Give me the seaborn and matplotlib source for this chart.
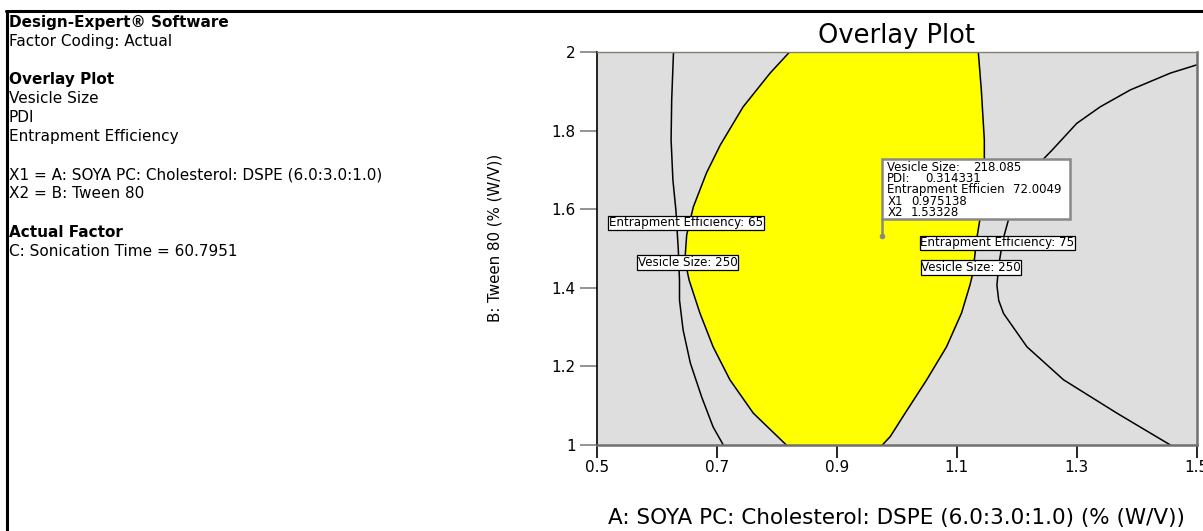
import matplotlib.pyplot as plt
import seaborn as sns
import numpy as np
from matplotlib.patches import Rectangle
from matplotlib.lines import Line2D

sns.set_style("white")
plt.rcParams['font.family'] = ['DejaVu Sans']
plt.rcParams.update({'text.color': 'black', 'axes.labelcolor': 'black',
                     'xtick.color': 'black', 'ytick.color': 'black'})

# contour lines (x = A, y = B)
vs_left_x = [0.628, 0.625, 0.624, 0.627, 0.632, 0.636, 0.638, 0.638, 0.644, 0.656, 0.675, 0.694, 0.711]
vs_left_y = [2.0, 1.879, 1.777, 1.675, 1.598, 1.497, 1.420, 1.369, 1.293, 1.209, 1.122, 1.046, 1.0]

ee65_x = [0.821, 0.789, 0.744, 0.706, 0.683, 0.661, 0.650, 0.647, 0.654, 0.672, 0.694, 0.722, 0.761, 0.816]
ee65_y = [2.0, 1.947, 1.861, 1.764, 1.693, 1.606, 1.535, 1.471, 1.420, 1.336, 1.250, 1.166, 1.081, 1.0]

ee75_x = [1.136, 1.141, 1.146, 1.146, 1.142, 1.133, 1.127, 1.122, 1.108, 1.083, 1.050, 1.014, 0.989, 0.976]
ee75_y = [2.0, 1.904, 1.777, 1.693, 1.606, 1.522, 1.438, 1.407, 1.336, 1.250, 1.166, 1.081, 1.021, 1.0]

vs_right_x = [1.5, 1.456, 1.389, 1.339, 1.300, 1.259, 1.222, 1.192, 1.177, 1.170, 1.167, 1.170, 1.178,
              1.217, 1.278, 1.367, 1.456]
vs_right_y = [1.968, 1.947, 1.904, 1.861, 1.819, 1.751, 1.693, 1.606, 1.522, 1.458, 1.407, 1.368, 1.335,
              1.250, 1.166, 1.081, 1.0]

# flag point
flag_x = 0.975138
flag_y = 1.53328
flag_names = ["Vesicle Size:", "PDI:", "Entrapment Efficien", "X1", "X2"]
flag_values = ["218.085", "0.314331", "72.0049", "0.975138", "1.53328"]

x_ticks = [0.5, 0.7, 0.9, 1.1, 1.3, 1.5]
y_ticks = [1, 1.2, 1.4, 1.6, 1.8, 2]

side_lines = [("Design-Expert® Software", "bold"), ("Factor Coding: Actual", "normal"), ("", "normal"),
              ("Overlay Plot", "bold"), ("Vesicle Size", "normal"), ("PDI", "normal"),
              ("Entrapment Efficiency", "normal"), ("", "normal"),
              ("X1 = A: SOYA PC: Cholesterol: DSPE (6.0:3.0:1.0)", "normal"), ("X2 = B: Tween 80", "normal"),
              ("", "normal"), ("Actual Factor", "bold"), ("C: Sonication Time = 60.7951", "normal")]

fig = plt.figure(figsize=(12.03, 5.31), dpi=100)
ax = fig.add_axes([0.4960, 0.1620, 0.4988, 0.7395])
ax.set_facecolor("#dedede")

# desirable region
ax.fill(ee65_x + ee75_x[::-1], ee65_y + ee75_y[::-1], color="#ffff00", lw=0, zorder=1)

for xs, ys in [(vs_left_x, vs_left_y), (ee65_x, ee65_y), (ee75_x, ee75_y), (vs_right_x, vs_right_y)]:
    sns.lineplot(x=xs, y=ys, sort=False, estimator=None, color="black", lw=1.1, ax=ax, zorder=2)

# contour labels
lab_kw = dict(fontsize=8.6, ha="center", va="center", zorder=4,
              bbox=dict(boxstyle="square,pad=0.05", fc="white", ec="black", lw=0.9))
ax.text(0.6488, 1.5653, "Entrapment Efficiency: 65", **lab_kw)
ax.text(0.6513, 1.4647, "Vesicle Size: 250", **lab_kw)
ax.text(1.168, 1.5152, "Entrapment Efficiency: 75", **lab_kw)
ax.text(1.1238, 1.452, "Vesicle Size: 250", **lab_kw)

# flag
ax.plot([flag_x, flag_x], [flag_y, 1.5755], color="#888888", lw=1.8, zorder=5)
ax.plot([flag_x], [flag_y], "o", color="#888888", ms=3, zorder=5)
ax.add_patch(Rectangle((flag_x, 1.5755), 1.2889 - flag_x, 1.728 - 1.5755,
                       fc="white", ec="#888888", lw=1.8, zorder=5))
value_x = [1.1277, 1.0472, 1.1933, 1.0234, 1.0234]
for i, (nm, val) in enumerate(zip(flag_names, flag_values)):
    yy = 1.707 - i * 0.0287
    ax.text(0.9842, yy, nm, fontsize=8.5, va="center", zorder=6)
    ax.text(value_x[i], yy, val, fontsize=8.5, va="center", zorder=6)

ax.set_xlim(0.5, 1.5)
ax.set_ylim(1, 2)
ax.set_xticks(x_ticks)
ax.set_xticklabels([f"{t:g}" for t in x_ticks])
ax.set_yticks(y_ticks)
ax.set_yticklabels([f"{t:g}" for t in y_ticks])
ax.tick_params(axis="x", bottom=True, direction="out", length=9, width=1.2, color="black",
               labelsize=11, pad=1.5)
ax.tick_params(axis="y", left=True, direction="out", length=12, width=1.2, color="#808080",
               labelsize=11, pad=3)
ax.spines["left"].set_color("black")
ax.spines["left"].set_linewidth(1.2)
ax.spines["bottom"].set_color("#707070")
ax.spines["bottom"].set_linewidth(1.8)
ax.spines["top"].set_color("#808070")
ax.spines["top"].set_linewidth(1.0)
ax.spines["right"].set_color("#707070")
ax.spines["right"].set_linewidth(1.8)

ax.set_title("Overlay Plot", fontsize=18.5, pad=6.7)
ax.set_xlabel("A: SOYA PC: Cholesterol: DSPE (6.0:3.0:1.0) (% (W/V))", fontsize=15.5, va="center")
ax.xaxis.set_label_coords(0.5, -(518 - 445) / 392.7)
ax.set_ylabel("B: Tween 80 (% (W/V))", fontsize=10.8, va="center")
ax.yaxis.set_label_coords((495 - 596.7) / 600, (445 - 238) / 392.7)

# side info text
for i, (line, wt) in enumerate(side_lines):
    if line:
        fig.text(9 / 1203, 1 - (22.5 + 19.05 * i) / 531, line, fontsize=11, fontweight=wt, va="center")

# page frame
fig.add_artist(Line2D([7 / 1203, 7 / 1203], [0, 1 - 11 / 531], color="black", lw=2.2))
fig.add_artist(Line2D([6 / 1203, 1], [1 - 11 / 531, 1 - 11 / 531], color="black", lw=2.2))

fig.savefig("out.png", dpi=100)
